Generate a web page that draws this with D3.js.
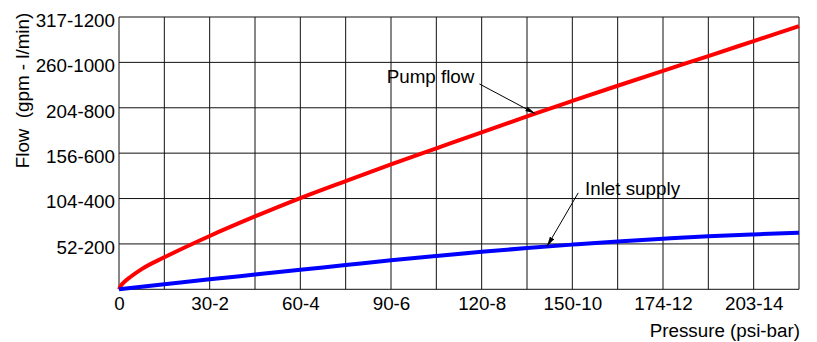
<!DOCTYPE html>
<html>
<head>
<meta charset="utf-8">
<script src="https://cdn.jsdelivr.net/npm/d3@7"></script>
<style>
  html, body { margin: 0; padding: 0; background: #fff; }
  svg { display: block; }
  text { font-family: "Liberation Sans", Arial, sans-serif; font-size: 18.8px; fill: #000; }
</style>
</head>
<body>
<svg id="chart" width="817" height="342"></svg>
<script>
// ---- data (x in bar, y in l/min) ----
const xTickValues = [0, 2, 4, 6, 8, 10, 12, 14];
const xTickLabels = ["0", "30-2", "60-4", "90-6", "120-8", "150-10", "174-12", "203-14"];
const yTickValues = [200, 400, 600, 800, 1000, 1200];
const yTickLabels = ["52-200", "104-400", "156-600", "204-800", "260-1000", "317-1200"];

const pumpX = [0, 0.05, 0.1, 0.25, 0.5, 1, 2, 3, 4, 5, 6, 7, 8, 9, 10, 11, 12, 13, 14, 15];
const pumpY = [0, 18, 29, 54, 89, 141, 235, 321, 402, 477, 550, 621, 692, 762, 830, 897, 963, 1028, 1094, 1160];
const inletX = [0, 1, 2, 3, 4, 5, 6, 7, 8, 9, 10, 11, 12, 13, 14, 15];
const inletY = [0, 22, 44, 65, 86, 107, 128, 147, 165, 182, 197, 211, 223, 234, 242, 249];

const seriesNames = ["Pump flow", "Inlet supply"];
const seriesColors = ["#ff0000", "#0000ff"];
// annotation: label anchor (x bar, y l/min), arrow tail, arrow head target x (bar)
const annLabelX = [5.905, 10.28];
const annLabelY = [910, 415];
const annTailX = [7.95, 10.13];
const annTailY = [905, 425];
const annTargetX = [9.18, 9.44];

const xTitle = "Pressure (psi-bar)";
const yTitle = "Flow  (gpm - l/min)";

// ---- layout ----
const svg = d3.select("#chart");
const pLeft = 119, pRight = 799, pTop = 17, pBottom = 289.3;
const FS = 18.8;
const x = d3.scaleLinear().domain([0, 15]).range([pLeft, pRight]);
const y = d3.scaleLinear().domain([0, 1200]).range([pBottom, pTop]);

// grid
const g = svg.append("g");
g.selectAll("line.v").data(d3.range(0, 16)).join("line")
  .attr("x1", d => x(d)).attr("x2", d => x(d))
  .attr("y1", y(0)).attr("y2", y(1200))
  .attr("stroke", "#111").attr("stroke-width", 1);
g.selectAll("line.h").data([0].concat(yTickValues)).join("line")
  .attr("y1", d => y(d)).attr("y2", d => y(d))
  .attr("x1", x(0)).attr("x2", x(15))
  .attr("stroke", "#111").attr("stroke-width", 1);

// axes labels via d3 axes
const xAxis = d3.axisBottom(x).tickValues(xTickValues)
  .tickFormat((d, i) => xTickLabels[i]).tickSize(0).tickPadding(0);
const xa = svg.append("g").attr("transform", `translate(0,${pBottom})`).call(xAxis);
xa.select(".domain").remove();
xa.selectAll("text").attr("font-size", FS).attr("font-family", "Liberation Sans, Arial, sans-serif")
  .attr("fill", "#000").attr("y", 21).attr("dy", 0);

const yAxis = d3.axisLeft(y).tickValues(yTickValues)
  .tickFormat((d, i) => yTickLabels[i]).tickSize(0).tickPadding(4);
const ya = svg.append("g").attr("transform", `translate(${pLeft},0)`).call(yAxis);
ya.select(".domain").remove();
ya.selectAll("text").attr("font-size", FS).attr("font-family", "Liberation Sans, Arial, sans-serif")
  .attr("fill", "#000").attr("dy", "0.5em");

// titles
svg.append("text").attr("x", 800).attr("y", 337).attr("text-anchor", "end").text(xTitle);
svg.append("text").attr("transform", "translate(29,90.5) rotate(-90)")
  .attr("text-anchor", "middle").style("white-space", "pre").text(yTitle);

// curves
const line = d3.line().x(d => x(d[0])).y(d => y(d[1])).curve(d3.curveMonotoneX);
const pumpData = pumpX.map((v, i) => [v, pumpY[i]]);
const inletData = inletX.map((v, i) => [v, inletY[i]]);
const series = [pumpData, inletData];
svg.selectAll("path.series").data(series).join("path")
  .attr("class", "series")
  .attr("d", line).attr("fill", "none")
  .attr("stroke", (d, i) => seriesColors[i]).attr("stroke-width", 4);

// annotations
const defs = svg.append("defs");
defs.append("marker").attr("id", "arr").attr("viewBox", "0 0 10 6")
  .attr("refX", 10).attr("refY", 3).attr("markerWidth", 10).attr("markerHeight", 6)
  .attr("markerUnits", "userSpaceOnUse").attr("orient", "auto")
  .append("path").attr("d", "M0,0.6 L10,3 L0,5.4 Z").attr("fill", "#000");

function interp(data, xv) {
  const fx = data.map(d => d[0]), fy = data.map(d => d[1]);
  const i = d3.bisectRight(fx, xv) - 1;
  const t = (xv - fx[i]) / (fx[i + 1] - fx[i]);
  return fy[i] + t * (fy[i + 1] - fy[i]);
}
seriesNames.forEach((name, i) => {
  svg.append("text").attr("x", x(annLabelX[i])).attr("y", y(annLabelY[i])).text(name);
  const tx = annTargetX[i], ty = interp(series[i], tx);
  svg.append("line")
    .attr("x1", x(annTailX[i])).attr("y1", y(annTailY[i]))
    .attr("x2", x(tx)).attr("y2", y(ty))
    .attr("stroke", "#000").attr("stroke-width", 1).attr("marker-end", "url(#arr)");
});
</script>
</body>
</html>
